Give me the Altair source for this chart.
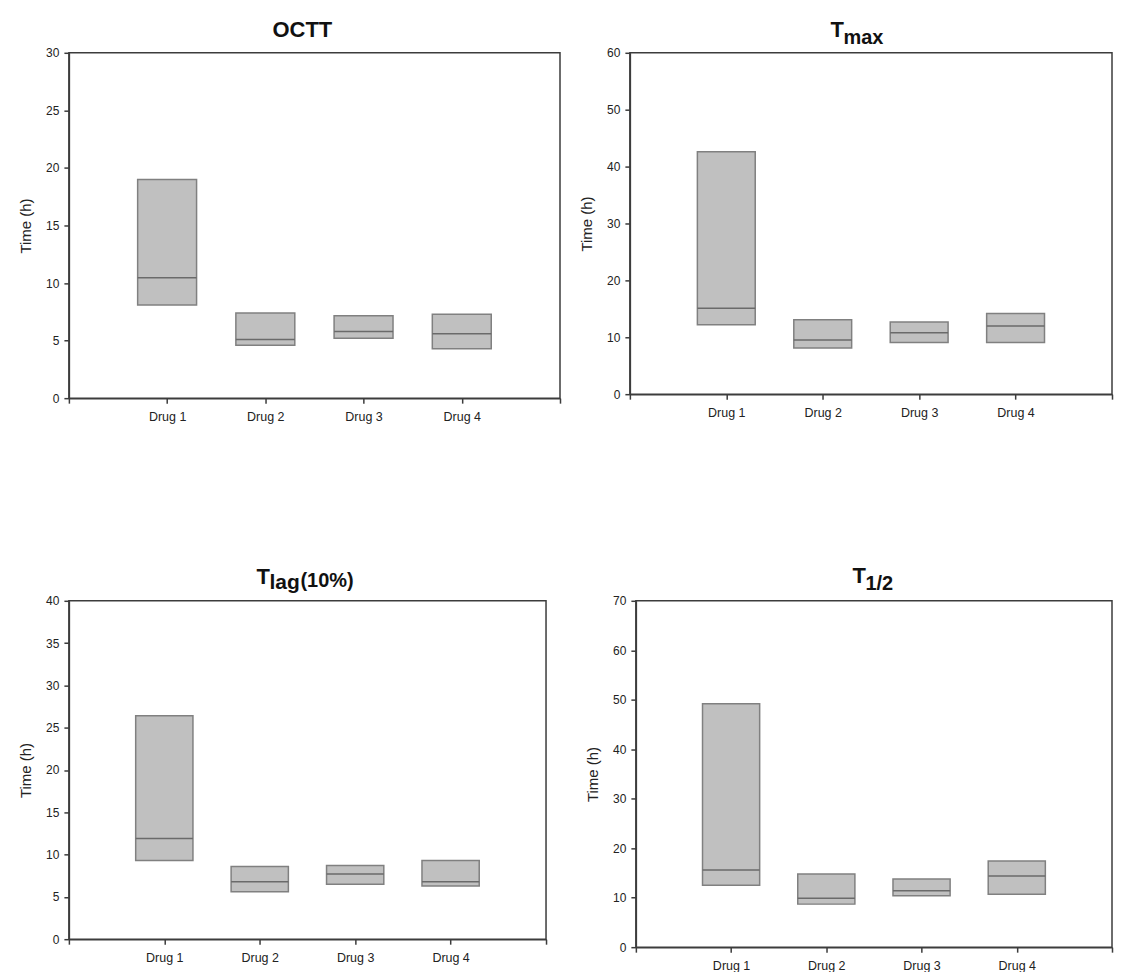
import json
import altair as alt
import pandas as pd

FONT = "Arial, Liberation Sans, Helvetica, sans-serif"

drugs = ["Drug 1", "Drug 2", "Drug 3", "Drug 4"]
positions = [1, 2, 3, 4]

# OCTT
octt_low = [8.1, 4.6, 5.2, 4.3]
octt_med = [10.45, 5.1, 5.8, 5.6]
octt_high = [19.0, 7.4, 7.15, 7.3]

# Tmax
tmax_low = [12.2, 8.1, 9.1, 9.1]
tmax_med = [15.1, 9.5, 10.8, 12.0]
tmax_high = [42.6, 13.1, 12.7, 14.2]

# Tlag(10%)
tlag_low = [9.3, 5.6, 6.5, 6.3]
tlag_med = [11.9, 6.8, 7.7, 6.8]
tlag_high = [26.4, 8.6, 8.7, 9.3]

# T1/2
thalf_low = [12.5, 8.7, 10.4, 10.7]
thalf_med = [15.6, 9.9, 11.4, 14.4]
thalf_high = [49.2, 14.8, 13.8, 17.4]

x_ticks = [0, 1, 2, 3, 4, 5]
x_labels = [""] + drugs + [""]
y_title = "Time (h)"

AXIS_COLOR = "#3c3c3c"


def panel(low, med, high, ymax, ystep, w, h, title_parts):
    df = pd.DataFrame({"drug": drugs, "pos": positions, "low": low, "med": med, "high": high})
    base = alt.Chart(df).transform_calculate(x0="datum.pos - 0.3", x1="datum.pos + 0.3")
    xs = alt.Scale(domain=[0, 5], nice=False, zero=False)
    ys = alt.Scale(domain=[0, ymax], nice=False)
    xaxis = alt.Axis(
        values=x_ticks,
        labelExpr=f"{json.dumps(x_labels)}[datum.value]",
        title=None,
        grid=False,
        labelPadding=7,
        labelFontSize=12.5,
    )
    yaxis = alt.Axis(
        values=list(range(0, ymax + 1, ystep)),
        title=y_title,
        grid=False,
        titlePadding=12,
        labelPadding=5,
    )
    box = base.mark_rect(fill="#c0c0c0", stroke="#808080", strokeWidth=1.5).encode(
        x=alt.X("x0:Q", scale=xs, axis=xaxis),
        x2="x1:Q",
        y=alt.Y("low:Q", scale=ys, axis=yaxis),
        y2="high:Q",
    )
    medline = base.mark_rule(color="#6a6a6a", strokeWidth=1.5).encode(
        x="x0:Q", x2="x1:Q", y="med:Q"
    )
    texts = []
    for txt, dx, dy, size in title_parts:
        texts.append(
            alt.Chart(pd.DataFrame({"t": [txt]}))
            .mark_text(align="left", baseline="alphabetic", fontSize=size,
                       fontWeight="bold", font=FONT, color="#111111")
            .encode(x=alt.value(dx), y=alt.value(dy), text="t:N")
        )
    return alt.layer(box, medline, *texts).properties(width=w, height=h)


p1 = panel(octt_low, octt_med, octt_high, 30, 5, 492, 346,
           [("OCTT", 204, -16, 22)])
p2 = panel(tmax_low, tmax_med, tmax_high, 60, 10, 483, 342,
           [("T", 201, -16, 22), ("max", 214, -9, 20)])
p3 = panel(tlag_low, tlag_med, tlag_high, 40, 5, 478, 339,
           [("T", 188, -17, 22), ("lag", 201, -12, 21), ("(10%)", 232, -14, 20)])
p4 = panel(thalf_low, thalf_med, thalf_high, 70, 10, 477, 347,
           [("T", 217, -18, 22), ("1/2", 230, -11, 20)])

row1 = alt.hconcat(p1, p2, spacing=70, bounds="flush")
row2 = alt.hconcat(p3, p4, spacing=90, bounds="flush")

chart = (
    alt.vconcat(row1, row2, spacing=140)
    .properties(padding={"left": 9, "top": 9, "right": 0, "bottom": 0})
    .configure_view(stroke=AXIS_COLOR, strokeWidth=1.5)
    .configure_axis(
        domainColor=AXIS_COLOR,
        domainWidth=1.5,
        tickColor=AXIS_COLOR,
        tickWidth=1.5,
        tickSize=5,
        labelFont=FONT,
        labelFontSize=12,
        labelColor="#222222",
        titleFont=FONT,
        titleFontSize=15,
        titleFontWeight="normal",
        titleColor="#222222",
    )
)

chart.save("out.html", embed_options={"renderer": "svg", "actions": False})
